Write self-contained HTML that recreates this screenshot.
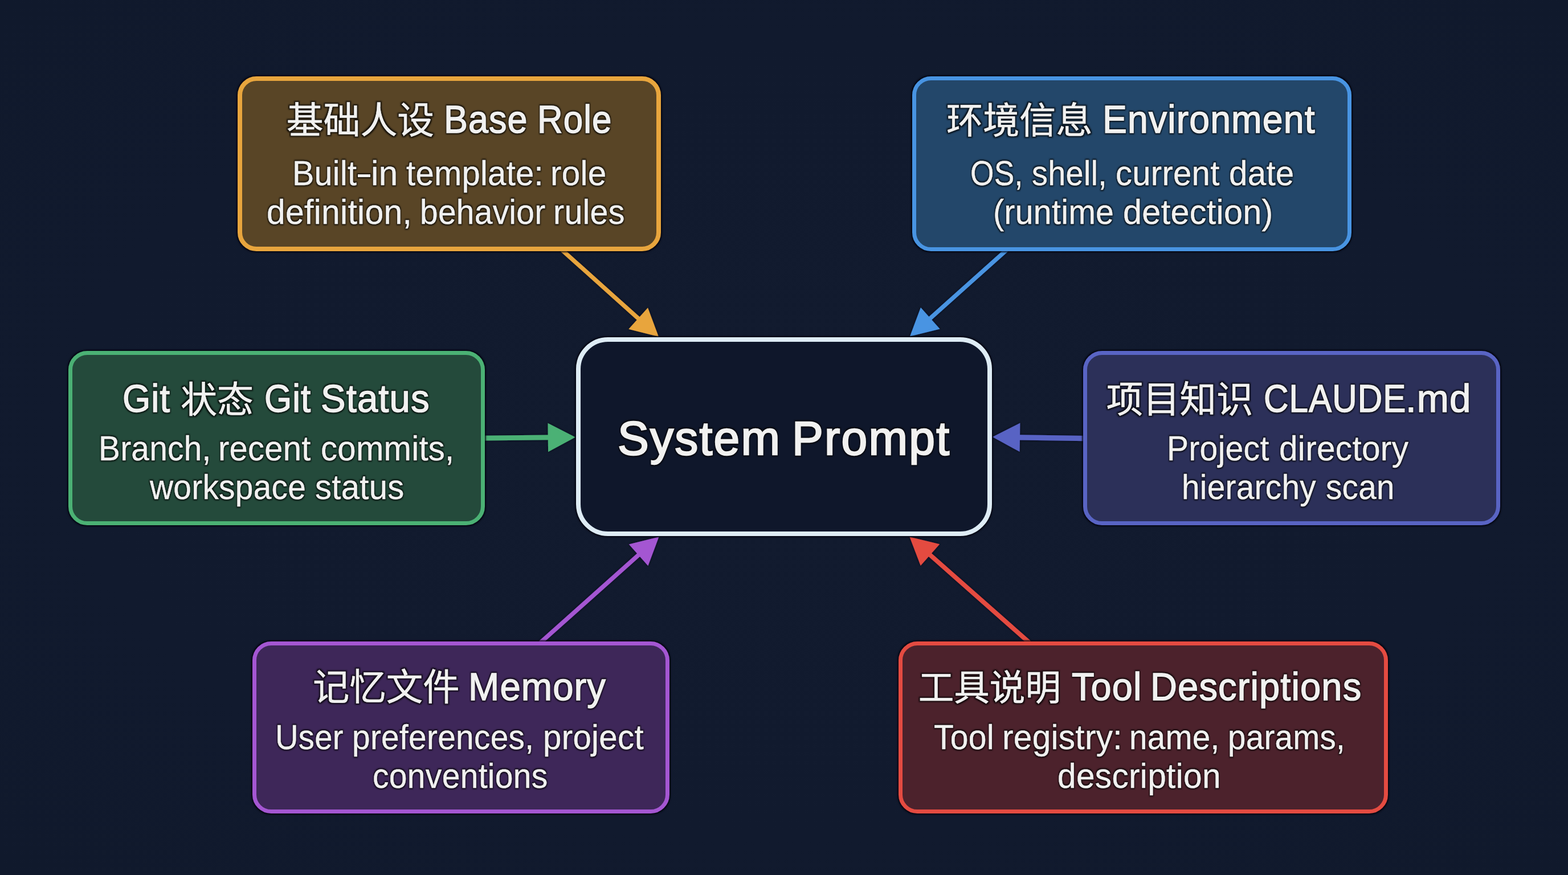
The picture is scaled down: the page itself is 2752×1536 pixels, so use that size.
<!DOCTYPE html>
<html lang="zh"><head><meta charset="utf-8"><title>System Prompt</title>
<style>
html,body{margin:0;padding:0;}
body{width:2752px;height:1536px;overflow:hidden;background:#111a2e;position:relative;font-family:"Liberation Sans",sans-serif;}
.bx{position:absolute;box-sizing:border-box;border-style:solid;box-shadow:0 0 2.5px 1.2px rgba(2,4,14,.85);}
.t{position:absolute;transform-origin:0 0;white-space:nowrap;color:#f1f1f0;line-height:1;font-kerning:normal;filter:url(#ts);-webkit-text-stroke-color:#f1f1f0;}
.c{position:absolute;white-space:nowrap;line-height:1;color:transparent;text-shadow:none;overflow:hidden;height:1em;}
svg{position:absolute;left:0;top:0;overflow:visible;}
</style></head><body>
<div style="position:absolute;left:0;top:0;width:2752px;height:1536px;background:radial-gradient(ellipse at 50% 50%, #121b2f 0%, #111a2e 65%, #10192c 100%);"></div>
<svg width="2752" height="1536" viewBox="0 0 2752 1536">
<g filter="url(#sh)"><line x1="986.5" y1="439" x2="1121.66" y2="560.28" stroke="#e8a53d" stroke-width="7.3"/><polygon points="1155.9,591 1103.31,577.74 1137.04,540.15" fill="#e8a53d"/></g>
<g filter="url(#sh)"><line x1="1766.5" y1="439" x2="1631.29" y2="559.93" stroke="#4894e2" stroke-width="7.3"/><polygon points="1597,590.6 1615.94,539.78 1649.61,577.42" fill="#4894e2"/></g>
<g filter="url(#sh)"><line x1="846" y1="769.2" x2="963.8" y2="767.91" stroke="#4bb174" stroke-width="8.8"/><polygon points="1009.8,767.4 962.08,793.18 961.53,742.68" fill="#4bb174"/></g>
<g filter="url(#sh)"><line x1="1906" y1="769.6" x2="1787.99" y2="767.8" stroke="#5964c4" stroke-width="9.2"/><polygon points="1742,767.1 1790.38,742.58 1789.61,793.08" fill="#5964c4"/></g>
<g filter="url(#sh)"><line x1="948.5" y1="1128" x2="1122.08" y2="973.03" stroke="#a456d2" stroke-width="7.5"/><polygon points="1156.4,942.4 1137.41,993.2 1103.78,955.53" fill="#a456d2"/></g>
<g filter="url(#sh)"><line x1="1806.5" y1="1128" x2="1630.97" y2="972.86" stroke="#e44b41" stroke-width="7.8"/><polygon points="1596.5,942.4 1649.19,955.27 1615.74,993.11" fill="#e44b41"/></g>
<defs><filter id="sh" x="-20%" y="-20%" width="140%" height="140%"><feDropShadow dx="0" dy="0" stdDeviation="2" flood-color="#030612" flood-opacity="0.8"/></filter></defs>
</svg>
<div class="bx" style="left:417px;top:133.6px;width:743.3px;height:307.5px;border-width:8.1px;border-color:#e8a53d;background:#594526;border-radius:33px;"></div>
<div class="bx" style="left:1601px;top:133.6px;width:771.4px;height:307.5px;border-width:7.9px;border-color:#4894e2;background:#23476a;border-radius:33px;"></div>
<div class="bx" style="left:119.7px;top:615.9px;width:731.2px;height:306.3px;border-width:7.8px;border-color:#4bb174;background:#244a3b;border-radius:33px;"></div>
<div class="bx" style="left:1010.8px;top:591.6px;width:730.7px;height:349px;border-width:8.3px;border-color:#deecf5;background:#0f172b;border-radius:56px;"></div>
<div class="bx" style="left:1901.3px;top:616.3px;width:731.4px;height:305.5px;border-width:7.7px;border-color:#5964c4;background:#2c3059;border-radius:33px;"></div>
<div class="bx" style="left:442.9px;top:1125.9px;width:732.3px;height:302.4px;border-width:7.6px;border-color:#a456d2;background:#3e2759;border-radius:33px;"></div>
<div class="bx" style="left:1577.1px;top:1126px;width:858.9px;height:302.3px;border-width:7.9px;border-color:#e44b41;background:#4c222c;border-radius:33px;"></div>
<svg width="2752" height="1536" viewBox="0 0 2752 1536"><defs>
<filter id="ts" x="-8%" y="-40%" width="116%" height="180%" color-interpolation-filters="sRGB"><feMorphology in="SourceAlpha" operator="dilate" radius="1.5" result="d"/><feGaussianBlur in="d" stdDeviation="1" result="b"/><feFlood flood-color="#000" flood-opacity="0.72"/><feComposite in2="b" operator="in" result="s"/><feMerge><feMergeNode in="s"/><feMergeNode in="SourceGraphic"/></feMerge></filter></defs>
<g filter="url(#ts)"><text x="502.65" y="234" font-size="64.9" fill="#f1f1f0" stroke="#f1f1f0" stroke-width="0.6" font-family="&quot;Liberation Sans&quot;, &quot;Noto Sans CJK SC&quot;, sans-serif">基础人设</text></g>
<g filter="url(#ts)"><text x="1661.11" y="234" font-size="64.1" fill="#f1f1f0" stroke="#f1f1f0" stroke-width="0.6" font-family="&quot;Liberation Sans&quot;, &quot;Noto Sans CJK SC&quot;, sans-serif">环境信息</text></g>
<g filter="url(#ts)"><text x="316.88" y="724" font-size="64.1" fill="#f1f1f0" stroke="#f1f1f0" stroke-width="0.6" font-family="&quot;Liberation Sans&quot;, &quot;Noto Sans CJK SC&quot;, sans-serif">状态</text></g>
<g filter="url(#ts)"><text x="1941.79" y="723.8" font-size="64.4" fill="#f1f1f0" stroke="#f1f1f0" stroke-width="0.6" font-family="&quot;Liberation Sans&quot;, &quot;Noto Sans CJK SC&quot;, sans-serif">项目知识</text></g>
<g filter="url(#ts)"><text x="549.03" y="1229.2" font-size="64.4" fill="#f1f1f0" stroke="#f1f1f0" stroke-width="0.6" font-family="&quot;Liberation Sans&quot;, &quot;Noto Sans CJK SC&quot;, sans-serif">记忆文件</text></g>
<g filter="url(#ts)"><text x="1611.63" y="1229" font-size="62.6" fill="#f1f1f0" stroke="#f1f1f0" stroke-width="0.6" font-family="&quot;Liberation Sans&quot;, &quot;Noto Sans CJK SC&quot;, sans-serif">工具说明</text></g>
</svg>
<div style="position:absolute;left:628px;top:305.6px;width:21.8px;height:5.3px;background:#f1f1f0;filter:url(#ts);"></div>
<div class="t" style="left:779.43px;top:175.19px;font-size:69px;font-weight:400;letter-spacing:1.200px;transform:scaleX(0.9110);-webkit-text-stroke-width:1.5px;">Base</div>
<div class="t" style="left:942.99px;top:175.19px;font-size:69px;font-weight:400;letter-spacing:1.200px;transform:scaleX(0.8959);-webkit-text-stroke-width:1.5px;">Role</div>
<div class="t" style="left:512.88px;top:273.76px;font-size:61px;font-weight:400;letter-spacing:0.300px;transform:scaleX(0.9418);-webkit-text-stroke-width:0.4px;">Built</div>
<div class="t" style="left:651.26px;top:273.76px;font-size:61px;font-weight:400;letter-spacing:0.300px;transform:scaleX(0.9838);-webkit-text-stroke-width:0.4px;">in</div>
<div class="t" style="left:713.29px;top:273.76px;font-size:61px;font-weight:400;letter-spacing:0.300px;transform:scaleX(0.9499);-webkit-text-stroke-width:0.4px;">template:</div>
<div class="t" style="left:965.96px;top:273.76px;font-size:61px;font-weight:400;letter-spacing:0.300px;transform:scaleX(0.9579);-webkit-text-stroke-width:0.4px;">role</div>
<div class="t" style="left:467.96px;top:341.76px;font-size:61px;font-weight:400;letter-spacing:0.300px;transform:scaleX(0.9651);-webkit-text-stroke-width:0.4px;">definition,</div>
<div class="t" style="left:737.49px;top:341.76px;font-size:61px;font-weight:400;letter-spacing:0.300px;transform:scaleX(0.9323);-webkit-text-stroke-width:0.4px;">behavior</div>
<div class="t" style="left:970.93px;top:341.76px;font-size:61px;font-weight:400;letter-spacing:0.300px;transform:scaleX(0.9406);-webkit-text-stroke-width:0.4px;">rules</div>
<div class="t" style="left:1935.44px;top:175.39px;font-size:69px;font-weight:400;letter-spacing:1.200px;transform:scaleX(0.9328);-webkit-text-stroke-width:1.5px;">Environment</div>
<div class="t" style="left:1703.13px;top:273.56px;font-size:61px;font-weight:400;letter-spacing:0.300px;transform:scaleX(0.8746);-webkit-text-stroke-width:0.4px;">OS,</div>
<div class="t" style="left:1811.17px;top:273.56px;font-size:61px;font-weight:400;letter-spacing:0.300px;transform:scaleX(0.9158);-webkit-text-stroke-width:0.4px;">shell,</div>
<div class="t" style="left:1957.99px;top:273.56px;font-size:61px;font-weight:400;letter-spacing:0.300px;transform:scaleX(0.9511);-webkit-text-stroke-width:0.4px;">current</div>
<div class="t" style="left:2156.58px;top:273.56px;font-size:61px;font-weight:400;letter-spacing:0.300px;transform:scaleX(0.9552);-webkit-text-stroke-width:0.4px;">date</div>
<div class="t" style="left:1743.47px;top:341.56px;font-size:61px;font-weight:400;letter-spacing:0.300px;transform:scaleX(0.9386);-webkit-text-stroke-width:0.4px;">(runtime</div>
<div class="t" style="left:1971.15px;top:341.56px;font-size:61px;font-weight:400;letter-spacing:0.300px;transform:scaleX(0.9734);-webkit-text-stroke-width:0.4px;">detection)</div>
<div class="t" style="left:215.44px;top:665.09px;font-size:69px;font-weight:400;letter-spacing:1.200px;transform:scaleX(0.9168);-webkit-text-stroke-width:1.5px;">Git</div>
<div class="t" style="left:463.98px;top:665.09px;font-size:69px;font-weight:400;letter-spacing:1.200px;transform:scaleX(0.8965);-webkit-text-stroke-width:1.5px;">Git</div>
<div class="t" style="left:563.37px;top:665.09px;font-size:69px;font-weight:400;letter-spacing:1.200px;transform:scaleX(0.9453);-webkit-text-stroke-width:1.5px;">Status</div>
<div class="t" style="left:172.83px;top:756.76px;font-size:61px;font-weight:400;letter-spacing:0.300px;transform:scaleX(0.9305);-webkit-text-stroke-width:0.4px;">Branch,</div>
<div class="t" style="left:383.49px;top:756.76px;font-size:61px;font-weight:400;letter-spacing:0.300px;transform:scaleX(0.9493);-webkit-text-stroke-width:0.4px;">recent</div>
<div class="t" style="left:563.09px;top:756.76px;font-size:61px;font-weight:400;letter-spacing:0.300px;transform:scaleX(0.9518);-webkit-text-stroke-width:0.4px;">commits,</div>
<div class="t" style="left:262.62px;top:825.46px;font-size:61px;font-weight:400;letter-spacing:0.300px;transform:scaleX(0.9317);-webkit-text-stroke-width:0.4px;">workspace</div>
<div class="t" style="left:552.54px;top:825.46px;font-size:61px;font-weight:400;letter-spacing:0.300px;transform:scaleX(0.9516);-webkit-text-stroke-width:0.4px;">status</div>
<div class="t" style="left:2217.64px;top:665.39px;font-size:69px;font-weight:400;letter-spacing:1.200px;transform:scaleX(0.8719);-webkit-text-stroke-width:1.5px;">CLAUDE</div>
<div class="t" style="left:2467.08px;top:665.39px;font-size:69px;font-weight:400;letter-spacing:1.200px;transform:scaleX(0.9756);-webkit-text-stroke-width:1.5px;">.md</div>
<div class="t" style="left:2048.21px;top:756.76px;font-size:61px;font-weight:400;letter-spacing:0.300px;transform:scaleX(0.9353);-webkit-text-stroke-width:0.4px;">Project</div>
<div class="t" style="left:2244.87px;top:756.76px;font-size:61px;font-weight:400;letter-spacing:0.300px;transform:scaleX(0.9604);-webkit-text-stroke-width:0.4px;">directory</div>
<div class="t" style="left:2074.46px;top:825.46px;font-size:61px;font-weight:400;letter-spacing:0.300px;transform:scaleX(0.9305);-webkit-text-stroke-width:0.4px;">hierarchy</div>
<div class="t" style="left:2327.16px;top:825.46px;font-size:61px;font-weight:400;letter-spacing:0.300px;transform:scaleX(0.9279);-webkit-text-stroke-width:0.4px;">scan</div>
<div class="t" style="left:821.99px;top:1171.39px;font-size:69px;font-weight:400;letter-spacing:1.200px;transform:scaleX(0.9442);-webkit-text-stroke-width:1.5px;">Memory</div>
<div class="t" style="left:483.3px;top:1263.56px;font-size:61px;font-weight:400;letter-spacing:0.300px;transform:scaleX(0.9215);-webkit-text-stroke-width:0.4px;">User</div>
<div class="t" style="left:618.09px;top:1263.56px;font-size:61px;font-weight:400;letter-spacing:0.300px;transform:scaleX(0.9321);-webkit-text-stroke-width:0.4px;">preferences,</div>
<div class="t" style="left:952.53px;top:1263.56px;font-size:61px;font-weight:400;letter-spacing:0.300px;transform:scaleX(0.9553);-webkit-text-stroke-width:0.4px;">project</div>
<div class="t" style="left:653.62px;top:1332.36px;font-size:61px;font-weight:400;letter-spacing:0.300px;transform:scaleX(0.9356);-webkit-text-stroke-width:0.4px;">conventions</div>
<div class="t" style="left:1881.06px;top:1171.39px;font-size:69px;font-weight:400;letter-spacing:1.200px;transform:scaleX(0.9403);-webkit-text-stroke-width:1.5px;">Tool</div>
<div class="t" style="left:2018.8px;top:1171.39px;font-size:69px;font-weight:400;letter-spacing:1.200px;transform:scaleX(0.9423);-webkit-text-stroke-width:1.5px;">Descriptions</div>
<div class="t" style="left:1638.55px;top:1263.56px;font-size:61px;font-weight:400;letter-spacing:0.300px;transform:scaleX(0.9360);-webkit-text-stroke-width:0.4px;">Tool</div>
<div class="t" style="left:1758.75px;top:1263.56px;font-size:61px;font-weight:400;letter-spacing:0.300px;transform:scaleX(0.9598);-webkit-text-stroke-width:0.4px;">registry:</div>
<div class="t" style="left:1982.38px;top:1263.56px;font-size:61px;font-weight:400;letter-spacing:0.300px;transform:scaleX(0.9273);-webkit-text-stroke-width:0.4px;">name,</div>
<div class="t" style="left:2154.81px;top:1263.56px;font-size:61px;font-weight:400;letter-spacing:0.300px;transform:scaleX(0.9259);-webkit-text-stroke-width:0.4px;">params,</div>
<div class="t" style="left:1855.77px;top:1332.36px;font-size:61px;font-weight:400;letter-spacing:0.300px;transform:scaleX(0.9615);-webkit-text-stroke-width:0.4px;">description</div>
<div class="t" style="left:1084.02px;top:727.54px;font-size:83px;font-weight:400;letter-spacing:2.200px;transform:scaleX(0.9901);-webkit-text-stroke-width:2.4px;">System</div>
<div class="t" style="left:1389.64px;top:727.54px;font-size:83px;font-weight:400;letter-spacing:2.200px;transform:scaleX(0.9910);-webkit-text-stroke-width:2.4px;">Prompt</div>
</body></html>
